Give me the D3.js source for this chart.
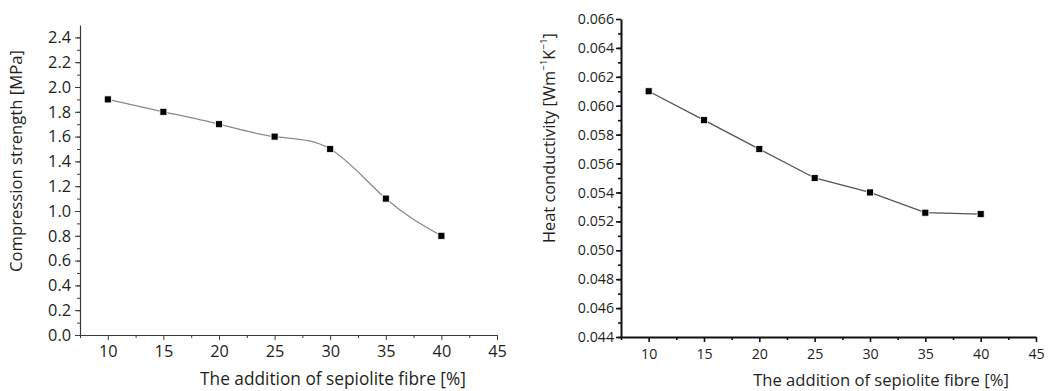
<!DOCTYPE html>
<html>
<head>
<meta charset="utf-8">
<script src="https://cdn.jsdelivr.net/npm/d3@7"></script>
<style>
  body { margin: 0; background: #fff; }
  svg text { font-family: "Open Sans", "Noto Sans", sans-serif; fill: #231f20; }
</style>
</head>
<body>
<svg id="chart" width="1051" height="391"></svg>
<script>
// shared x values: fibre addition [%]
const fibre = [10, 15, 20, 25, 30, 35, 40];
const xTicks = [10, 15, 20, 25, 30, 35, 40, 45];
const xMinor = [7.5, 12.5, 17.5, 22.5, 27.5, 32.5, 37.5, 42.5];

// left panel: compression strength [MPa]
const strength = [1.9, 1.8, 1.7, 1.6, 1.5, 1.1, 0.8];
const strengthTicks = [0, 0.2, 0.4, 0.6, 0.8, 1.0, 1.2, 1.4, 1.6, 1.8, 2.0, 2.2, 2.4];

// right panel: heat conductivity [W/mK]
const conductivity = [0.061, 0.059, 0.057, 0.055, 0.054, 0.0526, 0.0525];
const conductivityTicks = [0.044, 0.046, 0.048, 0.050, 0.052, 0.054, 0.056, 0.058, 0.060, 0.062, 0.064, 0.066];

const xTitle = "The addition of sepiolite fibre [%]";

const svg = d3.select("#chart");

// scale a font size so the given text node comes out at the wanted width
function fitSize(node, base, want) {
    const w = node.getComputedTextLength();
    return w > 0 ? base * want / w : base;
}

function drawPanel(opts) {
    const g = svg.append("g").attr("class", opts.name);

    const x = d3.scaleLinear().domain([7.5, 45]).range([opts.left, opts.right]);
    const y = d3.scaleLinear().domain(opts.yDomain).range([opts.bottom, opts.yTop]);

    // minor ticks first so major ones sit on top
    g.append("g")
        .attr("transform", `translate(0,${opts.bottom})`)
        .call(d3.axisBottom(x).tickValues(xMinor).tickSize(3).tickFormat(""))
        .call(a => a.select(".domain").remove());
    g.append("g")
        .attr("transform", `translate(${opts.left},0)`)
        .call(d3.axisLeft(y).tickValues(opts.yMinor).tickSize(3).tickFormat(""))
        .call(a => a.select(".domain").remove());

    const xAxis = g.append("g")
        .attr("transform", `translate(0,${opts.bottom})`)
        .call(d3.axisBottom(x).tickValues(xTicks).tickSize(5).tickSizeOuter(0).tickPadding(opts.xPad));
    const yAxis = g.append("g")
        .attr("transform", `translate(${opts.left},0)`)
        .call(d3.axisLeft(y).tickValues(opts.yTicks).tickSize(5).tickSizeOuter(0)
            .tickPadding(opts.yPad).tickFormat(opts.fmt));

    [xAxis, yAxis].forEach(a => {
        a.attr("font-size", null).attr("font-family", null);
        a.selectAll("line, path").attr("stroke", opts.axisColor);
        a.select(".domain").attr("stroke-width", opts.axisWidth);
        a.selectAll("text").style("font-size", opts.tickFont + "px").attr("fill", "#231f20");
    });
    g.selectAll(".tick line").attr("stroke", opts.axisColor).attr("stroke-width", opts.tickWidth);

    // the line through the points
    const line = d3.line()
        .x((d, i) => x(fibre[i]))
        .y(d => y(d))
        .curve(opts.curve);
    g.append("path")
        .datum(opts.values)
        .attr("fill", "none")
        .attr("stroke", opts.lineColor)
        .attr("stroke-width", 1.3)
        .attr("d", line);

    g.selectAll("rect.pt")
        .data(opts.values)
        .enter()
        .append("rect")
        .attr("class", "pt")
        .attr("x", (d, i) => x(fibre[i]) - 3.5)
        .attr("y", d => y(d) - 3.5)
        .attr("width", 7)
        .attr("height", 7)
        .attr("fill", "#000")
        .attr("stroke", "#fff")
        .attr("stroke-width", 0.8);

    // axis titles
    const xt = g.append("text")
        .attr("x", opts.xTitleX)
        .attr("y", opts.xTitleY)
        .attr("text-anchor", "middle")
        .style("font-size", "14px")
        .text(xTitle);
    xt.style("font-size", fitSize(xt.node(), 14, opts.xTitleW) + "px");

    const yt = g.append("text")
        .attr("transform", `translate(${opts.yTitleX},${opts.yTitleY}) rotate(-90)`)
        .attr("text-anchor", "middle")
        .attr("dominant-baseline", "middle")
        .style("font-size", "14px");
    opts.yTitle(yt);
    yt.style("font-size", fitSize(yt.node(), 14, opts.yTitleW) + "px");
}

drawPanel({
    name: "strength",
    left: 80, right: 497, bottom: 335, yTop: 25,
    yDomain: [0, 2.5],
    yTicks: strengthTicks,
    yMinor: d3.range(0, 25).map(i => i / 10),
    fmt: d3.format(".1f"),
    values: strength,
    curve: d3.curveNatural,
    lineColor: "#8a8a8a",
    axisColor: "#3a3a3a",
    axisWidth: 1.2,
    tickWidth: 1,
    tickFont: 16.3,
    xPad: 5, yPad: 4,
    xTitleX: 333, xTitleY: 385, xTitleW: 266,
    yTitleX: 18, yTitleY: 161, yTitleW: 222,
    yTitle: t => t.text("Compression strength [MPa]")
});

drawPanel({
    name: "conductivity",
    left: 621, right: 1036, bottom: 337, yTop: 19,
    yDomain: [0.044, 0.066],
    yTicks: conductivityTicks,
    yMinor: d3.range(0, 22).map(i => 0.044 + i * 0.001),
    fmt: d3.format(".3f"),
    values: conductivity,
    curve: d3.curveLinear,
    lineColor: "#555",
    axisColor: "#111",
    axisWidth: 2,
    tickWidth: 1.6,
    tickFont: 14.2,
    xPad: 7, yPad: 2,
    xTitleX: 881, xTitleY: 386, xTitleW: 256,
    yTitleX: 551, yTitleY: 138, yTitleW: 210,
    yTitle: t => {
        t.append("tspan").text("Heat conductivity [Wm");
        t.append("tspan").attr("baseline-shift", "super").style("font-size", "0.6em").text("−1");
        t.append("tspan").text("K");
        t.append("tspan").attr("baseline-shift", "super").style("font-size", "0.6em").text("−1");
        t.append("tspan").text("]");
    }
});
</script>
</body>
</html>
